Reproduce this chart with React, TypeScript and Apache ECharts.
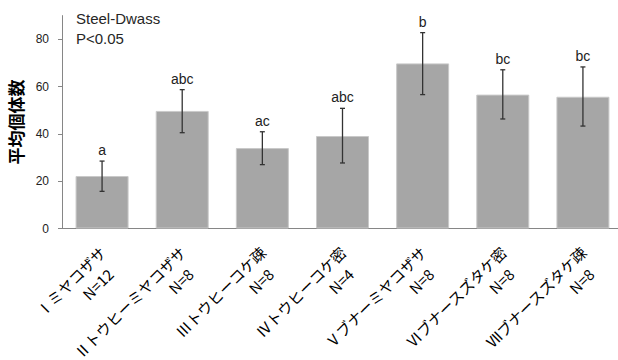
import React, { useEffect, useRef } from "react";
import * as echarts from "echarts";

// Survey plots (rotated axis labels) and sample sizes
const plotNames = [
  "Ⅰミヤコザサ",
  "Ⅱトウヒーミヤコザサ",
  "Ⅲトウヒーコケ疎",
  "Ⅳトウヒーコケ密",
  "Ⅴブナーミヤコザサ",
  "Ⅵブナースズタケ密",
  "Ⅶブナースズタケ疎",
];
const sampleSizes = [12, 8, 8, 4, 8, 8, 8];

// Mean counts and error-bar extents
const meanCounts = [22.2, 49.7, 34.0, 39.1, 69.8, 56.6, 55.7];
const errLow = [15.7, 40.5, 27.0, 27.7, 56.6, 46.3, 43.3];
const errHigh = [28.5, 58.7, 40.9, 50.8, 82.8, 67.1, 68.3];

// Steel-Dwass grouping letters
const groupLetters = ["a", "abc", "ac", "abc", "b", "bc", "bc"];

const yTicks = [0, 20, 40, 60, 80];

export default function App() {
  const ref = useRef<HTMLDivElement>(null);

  useEffect(() => {
    if (!ref.current) return;
    const chart = echarts.init(ref.current, null, { renderer: "svg" });

    const labels = plotNames.map((n, i) => `${n}\nN=${sampleSizes[i]}`);

    chart.setOption({
      animation: false,
      backgroundColor: "#ffffff",
      grid: {
        left: 62,
        right: -5,
        top: 15.6,
        bottom: 131.5,
        containLabel: false,
        outerBoundsMode: "none",
      },
      graphic: [
        {
          type: "text",
          left: 76,
          top: 8,
          style: {
            text: "Steel-Dwass\nP<0.05",
            fill: "#262626",
            font: '15px "Liberation Sans", Arial, sans-serif',
            lineHeight: 20,
          },
        },
      ],
      xAxis: {
        type: "category",
        data: labels,
        axisLine: { show: true, lineStyle: { color: "#868686", width: 1 } },
        axisTick: { show: false },
        axisLabel: {
          interval: 0,
          rotate: 45,
          margin: 36,
          padding: [0, -11, 0, 0],
          color: "#000",
          fontSize: 15,
          lineHeight: 21,
          fontFamily: '"Noto Sans CJK JP", sans-serif',
          formatter: (value: string) => {
            const [name, n] = value.split("\n");
            return `{t|${name}}\n{n|${n}}`;
          },
          rich: {
            t: { fontSize: 15, lineHeight: 21, color: "#000", fontFamily: '"Noto Sans CJK JP", sans-serif' },
            n: {
              fontSize: 15,
              lineHeight: 21,
              color: "#000",
              fontFamily: '"Noto Sans CJK JP", sans-serif',
              padding: [0, 10, 0, 0],
            },
          },
        },
      },
      yAxis: {
        type: "value",
        min: 0,
        max: 90,
        interval: 20,
        name: "平均個体数",
        nameLocation: "middle",
        nameRotate: 90,
        nameGap: 38,
        nameTextStyle: {
          color: "#000",
          fontSize: 17,
          fontWeight: "bold",
          fontFamily: '"Noto Sans CJK JP", sans-serif',
        },
        splitLine: { show: false },
        axisLine: { show: true, lineStyle: { color: "#868686", width: 1 } },
        axisTick: {
          show: true,
          length: 4,
          customValues: yTicks,
          lineStyle: { color: "#868686" },
        },
        axisLabel: {
          customValues: yTicks,
          margin: 13,
          color: "#222",
          fontSize: 12,
          fontFamily: '"Liberation Sans", Arial, sans-serif',
        },
      },
      series: [
        {
          type: "bar",
          data: meanCounts,
          barWidth: 53,
          itemStyle: { color: "#A6A6A6", borderColor: "#C9C9C9", borderWidth: 1 },
        },
        {
          type: "custom",
          data: meanCounts.map((_, i) => [i, errLow[i], errHigh[i]]),
          encode: { x: 0, y: [1, 2] },
          z: 5,
          renderItem: (params: any, api: any) => {
            const i = api.value(0);
            const lo = api.coord([i, api.value(1)]);
            const hi = api.coord([i, api.value(2)]);
            const cap = 2.5;
            const stroke = { stroke: "#333", lineWidth: 1.3 };
            return {
              type: "group",
              children: [
                { type: "line", shape: { x1: hi[0], y1: hi[1], x2: lo[0], y2: lo[1] }, style: stroke },
                { type: "line", shape: { x1: hi[0] - cap, y1: hi[1], x2: hi[0] + cap, y2: hi[1] }, style: stroke },
                { type: "line", shape: { x1: lo[0] - cap, y1: lo[1], x2: lo[0] + cap, y2: lo[1] }, style: stroke },
                {
                  type: "text",
                  x: hi[0],
                  y: hi[1] - 4,
                  style: {
                    text: groupLetters[i],
                    fill: "#222",
                    font: '14px "Liberation Sans", Arial, sans-serif',
                    textAlign: "center",
                    textVerticalAlign: "bottom",
                  },
                },
              ],
            };
          },
        },
      ],
    });

    return () => chart.dispose();
  }, []);

  return <div ref={ref} style={{ width: 618, height: 360, position: "absolute", left: 0, top: 0 }} />;
}
